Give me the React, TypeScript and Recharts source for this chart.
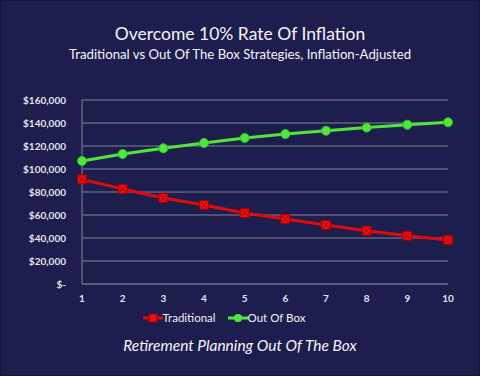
import React from 'react';
import { LineChart, Line, XAxis, YAxis, CartesianGrid, Legend } from 'recharts';

const years = ['1', '2', '3', '4', '5', '6', '7', '8', '9', '10'];
const traditional = [91000, 82600, 74800, 68700, 61700, 56500, 51300, 46400, 42000, 38300];
const outOfBox = [107000, 113000, 118000, 122600, 127000, 130400, 133300, 136000, 138500, 140600];
const yTicks = [0, 20000, 40000, 60000, 80000, 100000, 120000, 140000, 160000];

const BG = '#1e1e4e';
const RED = '#e00a0a';
const GREEN = '#4fe83a';
const FONT = 'Lato, "Open Sans", sans-serif';

const data = years.map((y, i) => ({ year: y, traditional: traditional[i], outOfBox: outOfBox[i] }));

const fmtMoney = (v: number) => (v === 0 ? '$-' : '$' + v.toLocaleString('en-US'));

const RedSquare = (props: any) => {
  const { cx, cy } = props;
  if (cx == null || cy == null) return null;
  return (
    <g>
      <rect x={cx - 4.5} y={cy - 4.5} width={9} height={9} fill="#e81010" stroke="#a00000" strokeWidth={1} />
      <path d={`M${cx - 3.5},${cy - 3.5}L${cx + 3.5},${cy + 3.5}M${cx + 3.5},${cy - 3.5}L${cx - 3.5},${cy + 3.5}`} stroke="#b00000" strokeWidth={1} />
    </g>
  );
};

const GreenDot = (props: any) => {
  const { cx, cy } = props;
  if (cx == null || cy == null) return null;
  return <circle cx={cx} cy={cy} r={4.5} fill={GREEN} stroke="#38c028" strokeWidth={1} />;
};

const LegendContent = () => (
  <div style={{ display: 'flex', justifyContent: 'center', gap: 12, paddingTop: 3, fontFamily: FONT, fontSize: 11.5, color: '#f0f0f4' }}>
    <span style={{ display: 'flex', alignItems: 'center' }}>
      <svg width={20} height={10}>
        <line x1={0} y1={5} x2={20} y2={5} stroke={RED} strokeWidth={3} />
        <rect x={6} y={1} width={8} height={8} fill="#e81010" stroke="#a00000" />
      </svg>
      Traditional
    </span>
    <span style={{ display: 'flex', alignItems: 'center' }}>
      <svg width={20} height={10}>
        <line x1={0} y1={5} x2={20} y2={5} stroke={GREEN} strokeWidth={3} />
        <circle cx={10} cy={5} r={4} fill={GREEN} />
      </svg>
      Out Of Box
    </span>
  </div>
);

export default function App() {
  return (
    <div style={{ position: 'absolute', left: 0, top: 0, width: 480, height: 376, background: BG, boxSizing: 'border-box', border: '1px solid #141438', overflow: 'hidden' }}>
      <div style={{ position: 'absolute', top: 22, width: '100%', textAlign: 'center', fontFamily: FONT, fontSize: 17.5, color: '#f4f4f8' }}>
        Overcome 10% Rate Of Inflation
      </div>
      <div style={{ position: 'absolute', top: 45, width: '100%', textAlign: 'center', fontFamily: FONT, fontSize: 13.2, color: '#f4f4f8' }}>
        Traditional vs Out Of The Box Strategies, Inflation-Adjusted
      </div>
      <div style={{ position: 'absolute', left: -1, top: -1 }}>
        <LineChart width={480} height={376} data={data} margin={{ top: 100, right: 32, bottom: 44, left: 0 }}>
          <CartesianGrid vertical={false} stroke="#62627e" strokeWidth={1.5} />
          <XAxis
            dataKey="year"
            axisLine={{ stroke: '#62627e', strokeWidth: 1.5 }}
            tickLine={false}
            tick={{ fill: '#e4e4ec', fontSize: 10, fontFamily: FONT, fontWeight: 700 }}
            tickMargin={5}
            height={24}
          />
          <YAxis
            ticks={yTicks}
            domain={[0, 160000]}
            tickFormatter={fmtMoney}
            width={82}
            axisLine={{ stroke: '#62627e', strokeWidth: 1.5 }}
            tickLine={false}
            tickMargin={10}
            tick={{ fill: '#e4e4ec', fontSize: 10, fontFamily: FONT, fontWeight: 700 }}
          />
          <Legend verticalAlign="bottom" height={24} content={<LegendContent />} />
          <Line type="linear" dataKey="traditional" name="Traditional" stroke={RED} strokeWidth={3} dot={<RedSquare />} isAnimationActive={false} />
          <Line type="linear" dataKey="outOfBox" name="Out Of Box" stroke={GREEN} strokeWidth={3} dot={<GreenDot />} isAnimationActive={false} />
        </LineChart>
      </div>
      <div style={{ position: 'absolute', top: 335, width: '100%', textAlign: 'center', fontFamily: FONT, fontSize: 15.5, fontStyle: 'italic', color: '#f4f4f8' }}>
        Retirement Planning Out Of The Box
      </div>
    </div>
  );
}
